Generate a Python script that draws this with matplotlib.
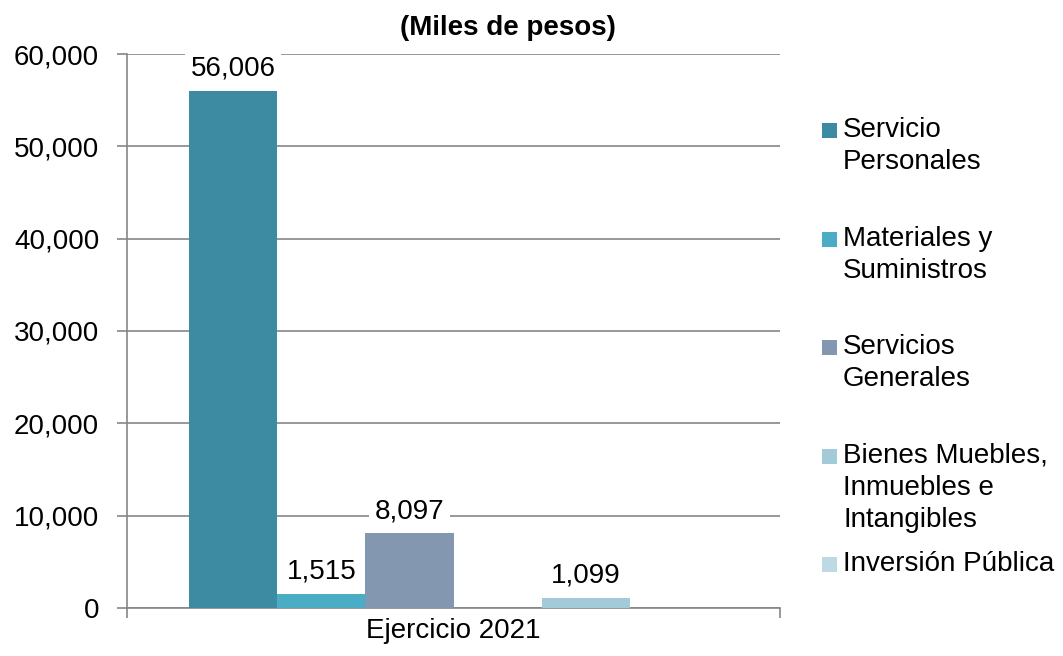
import matplotlib
matplotlib.use("Agg")
import matplotlib.pyplot as plt
from matplotlib.patches import Rectangle
import numpy as np

plt.rcParams['font.family'] = ['Liberation Sans', 'DejaVu Sans']

# ---- data ----
category = "Ejercicio 2021"
series_labels = ["Servicio\nPersonales", "Materiales y\nSuministros", "Servicios\nGenerales",
                 None, "Bienes Muebles,\nInmuebles e\nIntangibles", "Inversión Pública"]
values = [56006, 1515, 8097, np.nan, 1099, np.nan]
colors = ["#3D8BA3", "#4BACC6", "#8497B0", "#FFFFFF", "#A2CAD9", "#BDDAE4"]
title = "(Miles de pesos)"
yticks = [0, 10000, 20000, 30000, 40000, 50000, 60000]

# ---- layout ----
W, H = 1063, 656
fig = plt.figure(figsize=(W / 100, H / 100), dpi=100)
ax = fig.add_axes([127 / W, 1 - 608 / H, (780 - 127) / W, (608 - 54) / H])

grey = "#868686"
fs = 20
n = len(values)
bw = 0.1348
x0 = -n * bw / 2 + bw / 2
for i, (v, c) in enumerate(zip(values, colors)):
    if np.isnan(v):
        continue
    x = x0 + i * bw
    ax.bar(x, v, width=bw, color=c, zorder=3)
    ax.annotate(f"{v:,.0f}", (x, v), xytext=(0, 6.5), textcoords='offset points',
                ha='center', va='bottom', fontsize=fs,
                bbox=dict(boxstyle='square,pad=0.2', fc='white', ec='none'), zorder=4)

ax.set_xlim(-0.5, 0.5)
ax.set_ylim(0, 60000)
ax.set_yticks(yticks)
ax.set_yticklabels([f"{t:,}" for t in yticks], fontsize=fs)
ax.set_xticks([-0.5, 0.5])
ax.set_xticklabels(["", ""])
ax.set_xticks([0], minor=True)
ax.set_xticklabels([category], minor=True, fontsize=fs)
ax.tick_params(axis='x', which='minor', length=0, pad=7)
ax.tick_params(axis='x', which='major', length=7, width=1.2, color=grey, direction='out')
ax.tick_params(axis='y', length=7, width=1.2, color=grey, direction='out', pad=13)

ax.set_axisbelow(True)
ax.yaxis.grid(True, color=grey, linewidth=1.2)
for s in ['top', 'right']:
    ax.spines[s].set_visible(False)
for s in ['left', 'bottom']:
    ax.spines[s].set_color(grey)
    ax.spines[s].set_linewidth(1.2)

fig.text(508 / W, 1 - 28 / H, title, ha='center', va='center', fontsize=fs, fontweight='bold')

# ---- legend (manual, marker aligned to first line) ----
first_line_y = [130, 239, 347, None, 456, 564]
line_h = 32
for lab, c, yy in zip(series_labels, colors, first_line_y):
    if lab is None:
        continue
    fig.patches.append(Rectangle((822 / W, 1 - (yy + 7.5) / H), 15 / W, 15 / H,
                                 transform=fig.transFigure, facecolor=c, edgecolor='none'))
    for k, line in enumerate(lab.split("\n")):
        fig.text(843 / W, 1 - (yy + k * line_h) / H, line, ha='left', va='center', fontsize=fs)

fig.savefig("out.png", dpi=100)
